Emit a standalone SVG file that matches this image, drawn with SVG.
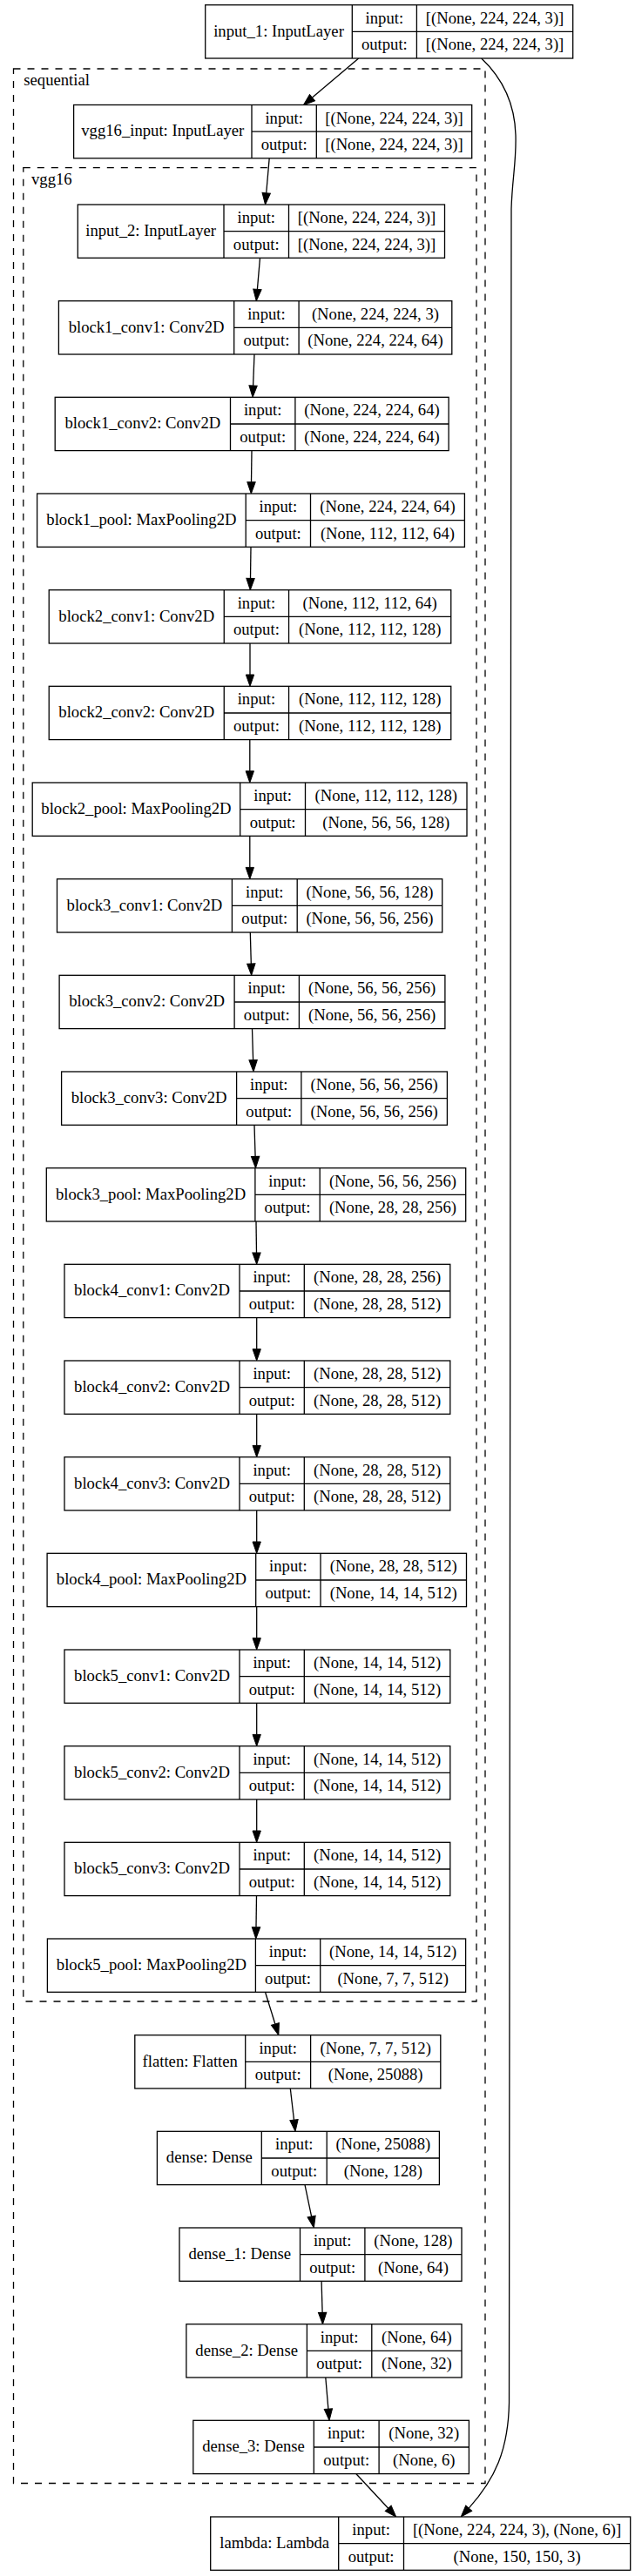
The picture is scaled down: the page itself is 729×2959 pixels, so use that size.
<svg xmlns="http://www.w3.org/2000/svg" width="729" height="2959" viewBox="0 0 729 2959">
<style>
.box{fill:#fff;stroke:#000;stroke-width:1.3}
.ln{fill:none;stroke:#000;stroke-width:1.3}
.cl{fill:none;stroke:#000;stroke-width:1.3;stroke-dasharray:8,8}
.e{fill:none;stroke:#000;stroke-width:1.3;marker-end:url(#ah)}
text{font-family:"Liberation Serif","Times New Roman",serif;font-size:18.67px;fill:#000;text-anchor:middle}
.lab{text-anchor:start}
</style>
<defs>
<marker id="ah" markerUnits="userSpaceOnUse" markerWidth="16" markerHeight="12" refX="0" refY="4.67" orient="auto" overflow="visible"><path d="M0,0 L13.3,4.67 L0,9.33 z" fill="#000" stroke="#000" stroke-width="1"/></marker>
</defs>
<rect x="0" y="0" width="729" height="2959" fill="#fff"/>
<g id="clusters">
<g id="cluster_sequential"><rect class="cl" x="15.5" y="79" width="541.5" height="2773.5"/><text class="lab" x="27.3" y="98.3">sequential</text></g>
<g id="cluster_vgg16"><rect class="cl" x="26.8" y="192.7" width="520.2" height="2106.3"/><text class="lab" x="36" y="211.7">vgg16</text></g>
</g>
<g id="edges">
<path class="e" d="M411.7,67 L358.5,112.1"/>
<path class="e" d="M309.2,181.8 L305.7,221.8"/>
<path class="e" d="M298.5,296.3 L295.4,332.4"/>
<path class="e" d="M292,407 L290.6,443"/>
<path class="e" d="M289,517.7 L288.5,553.7"/>
<path class="e" d="M288,628.3 L287.5,664.4"/>
<path class="e" d="M287,739 L287,775"/>
<path class="e" d="M286.8,849.7 L286.8,885.7"/>
<path class="e" d="M286.8,960.3 L286.8,996.4"/>
<path class="e" d="M287.3,1071 L288.3,1107"/>
<path class="e" d="M289.5,1181.7 L290.6,1217.7"/>
<path class="e" d="M292,1292.3 L293.1,1328.4"/>
<path class="e" d="M294,1403 L294.5,1439"/>
<path class="e" d="M294.7,1513.7 L294.7,1549.7"/>
<path class="e" d="M294.7,1624.3 L294.7,1660.4"/>
<path class="e" d="M294.7,1735 L294.7,1771"/>
<path class="e" d="M294.7,1845.7 L294.7,1881.7"/>
<path class="e" d="M294.7,1956.3 L294.7,1992.4"/>
<path class="e" d="M294.7,2067 L294.7,2103"/>
<path class="e" d="M294.5,2177.7 L294,2213.7"/>
<path class="e" d="M304.5,2288.3 L315.9,2325"/>
<path class="e" d="M333.3,2399 L337.5,2435.1"/>
<path class="e" d="M350,2509.7 L357.6,2546"/>
<path class="e" d="M369.1,2620.3 L370.1,2656.4"/>
<path class="e" d="M373.8,2731 L376.9,2767.1"/>
<path class="e" d="M409,2841.7 L445.7,2881.3"/>
<path class="e" d="M552.7,67 C576,89 591,119 592,155 C593,185 588,205 587,240 L584.5,2760 C583.5,2815 568,2848 538.2,2881.1"/>
</g>
<g id="n_input_1"><rect class="box" x="235.7" y="5.7" width="422" height="61.3"/><path class="ln" d="M404.3,5.7V67M478.4,5.7V67M404.3,36.4H657.7"/><text x="320" y="41.5">input_1: InputLayer</text><text x="441.35" y="26.7">input:</text><text x="441.35" y="57.4">output:</text><text x="568.05" y="26.7">[(None, 224, 224, 3)]</text><text x="568.05" y="57.4">[(None, 224, 224, 3)]</text></g>
<g id="n_vgg16_input"><rect class="box" x="84.6" y="120.5" width="457.1" height="61.3"/><path class="ln" d="M289,120.5V181.8M363.3,120.5V181.8M289,151.2H541.7"/><text x="186.8" y="156.3">vgg16_input: InputLayer</text><text x="326.15" y="141.5">input:</text><text x="326.15" y="172.2">output:</text><text x="452.5" y="141.5">[(None, 224, 224, 3)]</text><text x="452.5" y="172.2">[(None, 224, 224, 3)]</text></g>
<g id="n_input_2"><rect class="box" x="89.3" y="235" width="421.2" height="61.3"/><path class="ln" d="M257,235V296.3M331.5,235V296.3M257,265.7H510.5"/><text x="173.15" y="270.8">input_2: InputLayer</text><text x="294.25" y="256">input:</text><text x="294.25" y="286.7">output:</text><text x="421" y="256">[(None, 224, 224, 3)]</text><text x="421" y="286.7">[(None, 224, 224, 3)]</text></g>
<g id="n_block1_conv1"><rect class="box" x="67.4" y="345.7" width="451.4" height="61.3"/><path class="ln" d="M268.7,345.7V407M343.1,345.7V407M268.7,376.3H518.8"/><text x="168.05" y="381.5">block1_conv1: Conv2D</text><text x="305.9" y="366.7">input:</text><text x="305.9" y="397.4">output:</text><text x="430.95" y="366.7">(None, 224, 224, 3)</text><text x="430.95" y="397.4">(None, 224, 224, 64)</text></g>
<g id="n_block1_conv2"><rect class="box" x="63.2" y="456.3" width="451.9" height="61.3"/><path class="ln" d="M264.5,456.3V517.6M338.9,456.3V517.6M264.5,487H515.1"/><text x="163.85" y="492.1">block1_conv2: Conv2D</text><text x="301.7" y="477.3">input:</text><text x="301.7" y="508">output:</text><text x="427" y="477.3">(None, 224, 224, 64)</text><text x="427" y="508">(None, 224, 224, 64)</text></g>
<g id="n_block1_pool"><rect class="box" x="42.6" y="567" width="490.8" height="61.3"/><path class="ln" d="M282.2,567V628.3M356.5,567V628.3M282.2,597.7H533.4"/><text x="162.4" y="602.8">block1_pool: MaxPooling2D</text><text x="319.35" y="588">input:</text><text x="319.35" y="618.7">output:</text><text x="444.95" y="588">(None, 224, 224, 64)</text><text x="444.95" y="618.7">(None, 112, 112, 64)</text></g>
<g id="n_block2_conv1"><rect class="box" x="56.25" y="677.7" width="461.5" height="61.3"/><path class="ln" d="M257.25,677.7V739M331.55,677.7V739M257.25,708.3H517.75"/><text x="156.75" y="713.5">block2_conv1: Conv2D</text><text x="294.4" y="698.7">input:</text><text x="294.4" y="729.4">output:</text><text x="424.65" y="698.7">(None, 112, 112, 64)</text><text x="424.65" y="729.4">(None, 112, 112, 128)</text></g>
<g id="n_block2_conv2"><rect class="box" x="56.25" y="788.3" width="461.5" height="61.3"/><path class="ln" d="M257.25,788.3V849.6M331.55,788.3V849.6M257.25,819H517.75"/><text x="156.75" y="824.1">block2_conv2: Conv2D</text><text x="294.4" y="809.3">input:</text><text x="294.4" y="840">output:</text><text x="424.65" y="809.3">(None, 112, 112, 128)</text><text x="424.65" y="840">(None, 112, 112, 128)</text></g>
<g id="n_block2_pool"><rect class="box" x="37.2" y="899" width="498.8" height="61.3"/><path class="ln" d="M275.7,899V960.3M350.5,899V960.3M275.7,929.7H536"/><text x="156.45" y="934.8">block2_pool: MaxPooling2D</text><text x="313.1" y="920">input:</text><text x="313.1" y="950.7">output:</text><text x="443.25" y="920">(None, 112, 112, 128)</text><text x="443.25" y="950.7">(None, 56, 56, 128)</text></g>
<g id="n_block3_conv1"><rect class="box" x="65.5" y="1009.7" width="442.2" height="61.3"/><path class="ln" d="M266.4,1009.7V1071M341.2,1009.7V1071M266.4,1040.3H507.7"/><text x="165.95" y="1045.5">block3_conv1: Conv2D</text><text x="303.8" y="1030.7">input:</text><text x="303.8" y="1061.4">output:</text><text x="424.45" y="1030.7">(None, 56, 56, 128)</text><text x="424.45" y="1061.4">(None, 56, 56, 256)</text></g>
<g id="n_block3_conv2"><rect class="box" x="68.1" y="1120.3" width="442.8" height="61.3"/><path class="ln" d="M269.1,1120.3V1181.6M343.4,1120.3V1181.6M269.1,1151H510.9"/><text x="168.6" y="1156.1">block3_conv2: Conv2D</text><text x="306.25" y="1141.3">input:</text><text x="306.25" y="1172">output:</text><text x="427.15" y="1141.3">(None, 56, 56, 256)</text><text x="427.15" y="1172">(None, 56, 56, 256)</text></g>
<g id="n_block3_conv3"><rect class="box" x="70.6" y="1231" width="442.8" height="61.3"/><path class="ln" d="M271.6,1231V1292.3M345.9,1231V1292.3M271.6,1261.7H513.4"/><text x="171.1" y="1266.8">block3_conv3: Conv2D</text><text x="308.75" y="1252">input:</text><text x="308.75" y="1282.7">output:</text><text x="429.65" y="1252">(None, 56, 56, 256)</text><text x="429.65" y="1282.7">(None, 56, 56, 256)</text></g>
<g id="n_block3_pool"><rect class="box" x="53.3" y="1341.7" width="481.4" height="61.3"/><path class="ln" d="M292.9,1341.7V1403M367.2,1341.7V1403M292.9,1372.3H534.7"/><text x="173.1" y="1377.5">block3_pool: MaxPooling2D</text><text x="330.05" y="1362.7">input:</text><text x="330.05" y="1393.4">output:</text><text x="450.95" y="1362.7">(None, 56, 56, 256)</text><text x="450.95" y="1393.4">(None, 28, 28, 256)</text></g>
<g id="n_block4_conv1"><rect class="box" x="74" y="1452.3" width="442.8" height="61.3"/><path class="ln" d="M275,1452.3V1513.6M349.3,1452.3V1513.6M275,1483H516.8"/><text x="174.5" y="1488.1">block4_conv1: Conv2D</text><text x="312.15" y="1473.3">input:</text><text x="312.15" y="1504">output:</text><text x="433.05" y="1473.3">(None, 28, 28, 256)</text><text x="433.05" y="1504">(None, 28, 28, 512)</text></g>
<g id="n_block4_conv2"><rect class="box" x="74" y="1563" width="442.8" height="61.3"/><path class="ln" d="M275,1563V1624.3M349.3,1563V1624.3M275,1593.7H516.8"/><text x="174.5" y="1598.8">block4_conv2: Conv2D</text><text x="312.15" y="1584">input:</text><text x="312.15" y="1614.7">output:</text><text x="433.05" y="1584">(None, 28, 28, 512)</text><text x="433.05" y="1614.7">(None, 28, 28, 512)</text></g>
<g id="n_block4_conv3"><rect class="box" x="74" y="1673.7" width="442.8" height="61.3"/><path class="ln" d="M275,1673.7V1735M349.3,1673.7V1735M275,1704.3H516.8"/><text x="174.5" y="1709.5">block4_conv3: Conv2D</text><text x="312.15" y="1694.7">input:</text><text x="312.15" y="1725.4">output:</text><text x="433.05" y="1694.7">(None, 28, 28, 512)</text><text x="433.05" y="1725.4">(None, 28, 28, 512)</text></g>
<g id="n_block4_pool"><rect class="box" x="54.1" y="1784.3" width="481.4" height="61.3"/><path class="ln" d="M293.7,1784.3V1845.6M368,1784.3V1845.6M293.7,1815H535.5"/><text x="173.9" y="1820.1">block4_pool: MaxPooling2D</text><text x="330.85" y="1805.3">input:</text><text x="330.85" y="1836">output:</text><text x="451.75" y="1805.3">(None, 28, 28, 512)</text><text x="451.75" y="1836">(None, 14, 14, 512)</text></g>
<g id="n_block5_conv1"><rect class="box" x="74" y="1895" width="442.8" height="61.3"/><path class="ln" d="M275,1895V1956.3M349.3,1895V1956.3M275,1925.7H516.8"/><text x="174.5" y="1930.8">block5_conv1: Conv2D</text><text x="312.15" y="1916">input:</text><text x="312.15" y="1946.7">output:</text><text x="433.05" y="1916">(None, 14, 14, 512)</text><text x="433.05" y="1946.7">(None, 14, 14, 512)</text></g>
<g id="n_block5_conv2"><rect class="box" x="74" y="2005.7" width="442.8" height="61.3"/><path class="ln" d="M275,2005.7V2067M349.3,2005.7V2067M275,2036.3H516.8"/><text x="174.5" y="2041.5">block5_conv2: Conv2D</text><text x="312.15" y="2026.7">input:</text><text x="312.15" y="2057.4">output:</text><text x="433.05" y="2026.7">(None, 14, 14, 512)</text><text x="433.05" y="2057.4">(None, 14, 14, 512)</text></g>
<g id="n_block5_conv3"><rect class="box" x="74" y="2116.3" width="442.8" height="61.3"/><path class="ln" d="M275,2116.3V2177.6M349.3,2116.3V2177.6M275,2147H516.8"/><text x="174.5" y="2152.1">block5_conv3: Conv2D</text><text x="312.15" y="2137.3">input:</text><text x="312.15" y="2168">output:</text><text x="433.05" y="2137.3">(None, 14, 14, 512)</text><text x="433.05" y="2168">(None, 14, 14, 512)</text></g>
<g id="n_block5_pool"><rect class="box" x="54.4" y="2227" width="480.2" height="61.3"/><path class="ln" d="M293.4,2227V2288.3M367.7,2227V2288.3M293.4,2257.7H534.6"/><text x="173.9" y="2262.8">block5_pool: MaxPooling2D</text><text x="330.55" y="2248">input:</text><text x="330.55" y="2278.7">output:</text><text x="451.15" y="2248">(None, 14, 14, 512)</text><text x="451.15" y="2278.7">(None, 7, 7, 512)</text></g>
<g id="n_flatten"><rect class="box" x="154.8" y="2337.7" width="351" height="61.3"/><path class="ln" d="M281.7,2337.7V2399M356.6,2337.7V2399M281.7,2368.3H505.8"/><text x="218.25" y="2373.5">flatten: Flatten</text><text x="319.15" y="2358.7">input:</text><text x="319.15" y="2389.4">output:</text><text x="431.2" y="2358.7">(None, 7, 7, 512)</text><text x="431.2" y="2389.4">(None, 25088)</text></g>
<g id="n_dense"><rect class="box" x="180.4" y="2448.3" width="324" height="61.3"/><path class="ln" d="M300.3,2448.3V2509.6M375.2,2448.3V2509.6M300.3,2479H504.4"/><text x="240.35" y="2484.1">dense: Dense</text><text x="337.75" y="2469.3">input:</text><text x="337.75" y="2500">output:</text><text x="439.8" y="2469.3">(None, 25088)</text><text x="439.8" y="2500">(None, 128)</text></g>
<g id="n_dense_1"><rect class="box" x="206" y="2559" width="324" height="61.3"/><path class="ln" d="M344.5,2559V2620.3M418.9,2559V2620.3M344.5,2589.7H530"/><text x="275.25" y="2594.8">dense_1: Dense</text><text x="381.7" y="2580">input:</text><text x="381.7" y="2610.7">output:</text><text x="474.45" y="2580">(None, 128)</text><text x="474.45" y="2610.7">(None, 64)</text></g>
<g id="n_dense_2"><rect class="box" x="213.9" y="2669.7" width="316.1" height="61.3"/><path class="ln" d="M352.4,2669.7V2731M426.8,2669.7V2731M352.4,2700.3H530"/><text x="283.15" y="2705.5">dense_2: Dense</text><text x="389.6" y="2690.7">input:</text><text x="389.6" y="2721.4">output:</text><text x="478.4" y="2690.7">(None, 64)</text><text x="478.4" y="2721.4">(None, 32)</text></g>
<g id="n_dense_3"><rect class="box" x="221.8" y="2780.3" width="316.6" height="61.3"/><path class="ln" d="M360.3,2780.3V2841.6M435.1,2780.3V2841.6M360.3,2811H538.4"/><text x="291.05" y="2816.1">dense_3: Dense</text><text x="397.7" y="2801.3">input:</text><text x="397.7" y="2832">output:</text><text x="486.75" y="2801.3">(None, 32)</text><text x="486.75" y="2832">(None, 6)</text></g>
<g id="n_lambda"><rect class="box" x="241.7" y="2891" width="482" height="61.3"/><path class="ln" d="M388.7,2891V2952.3M463.5,2891V2952.3M388.7,2921.7H723.7"/><text x="315.2" y="2926.8">lambda: Lambda</text><text x="426.1" y="2912">input:</text><text x="426.1" y="2942.7">output:</text><text x="593.6" y="2912">[(None, 224, 224, 3), (None, 6)]</text><text x="593.6" y="2942.7">(None, 150, 150, 3)</text></g>
</svg>
